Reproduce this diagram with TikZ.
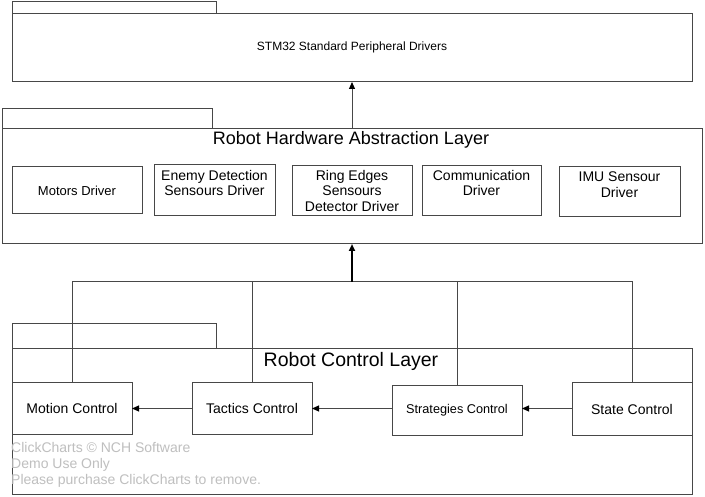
\documentclass[tikz,border=0pt]{standalone}
\usepackage{fontspec}
\setmainfont{Liberation Sans}
\usetikzlibrary{arrows.meta}
\newcommand\mybox[5]{\node[boxnode,minimum width={(#3-#1)*1pt},minimum height={(#4-#2)*1pt}] (#5) at ({(#1+#3)/2},{(#2+#4)/2}) {};}
\begin{document}
\begin{tikzpicture}[x=1pt,y=-1pt,
  ln/.style={draw=black!72, line width=1pt},
  boxnode/.style={ln, rectangle, inner sep=0pt, outer sep=0pt, fill=white},
  txt/.style={inner sep=0pt, align=center, font=\fontsize{14}{15.5}\selectfont},
  tip/.style={-{Triangle[length=7pt,width=6pt,color=black]}},
  wmark/.style={anchor=base west, inner sep=0pt, text=black!25, font=\fontsize{14}{16}\selectfont}]
\useasboundingbox[fill=white] (0,0) rectangle (705,497);
% STM32 package
\mybox{12}{2}{216}{14}{stmtab}
\mybox{12}{14}{692}{82}{stm}
\node[txt, font=\fontsize{12}{14}\selectfont] (stmt) at (352,47.5) {STM32 Standard Peripheral Drivers};
% HAL package
\mybox{2}{109}{212}{129}{haltab}
\mybox{2}{129}{702}{244}{hal}
\node[txt, font=\fontsize{18}{20}\selectfont] (halt) at (351,140) {Robot Hardware Abstraction Layer};
\mybox{12}{167}{142}{214}{motors}
\node[txt, font=\fontsize{13}{15}\selectfont] (motorst) at (motors.center) {Motors Driver};
\mybox{154}{165}{275}{216}{enemy}
\node[txt, anchor=north] (enemyt) at (214.5,170) {Enemy Detection\\Sensours Driver};
\mybox{292}{166}{412}{216}{ring}
\node[txt, anchor=north] (ringt) at (352,170) {Ring Edges\\Sensours\\Detector Driver};
\mybox{422}{166}{541}{216}{comm}
\node[txt, anchor=north] (commt) at (481.5,170) {Communication\\Driver};
\mybox{559}{167}{680}{217}{imu}
\node[txt, anchor=north] (imut) at (619.5,172) {IMU Sensour\\Driver};
% Control package
\mybox{12}{324}{216}{349}{ctltab}
\mybox{12}{349}{692}{494}{ctl}
\node[txt, font=\fontsize{19.5}{21}\selectfont] (ctlt) at (351,361) {Robot Control Layer};
\node[wmark] (wm1) at (11,452) {ClickCharts © NCH Software};
\node[wmark] (wm2) at (11,468) {Demo Use Only};
\node[wmark] (wm3) at (11,484) {Please purchase ClickCharts to remove.};
\mybox{12}{383}{132}{434}{motion}
\node[txt] (motiont) at (motion.center) {Motion Control};
\mybox{192}{383}{312}{434}{tactics}
\node[txt] (tacticst) at (tactics.center) {Tactics Control};
\mybox{392}{386}{522}{435}{strat}
\node[txt, font=\fontsize{12.7}{15}\selectfont] (stratt) at (strat.center) {Strategies Control};
\mybox{572}{383}{692}{435}{state}
\node[txt] (statet) at (state.center) {State Control};
% connectors
\draw[ln, tip] (hal.north) -- (stm.south);
\coordinate (bus) at (352,282);
\draw[ln] (motion.north) |- (bus);
\draw[ln] (tactics.north) |- (bus);
\draw[ln] (strat.north) |- (bus);
\draw[ln] (state.north) |- (bus);
\draw[line width=2pt, tip] (bus) -- (hal.south);
\draw[ln, tip] (state.west |- tactics.east) -- (strat.east |- tactics.east);
\draw[ln, tip] (strat.west |- tactics.east) -- (tactics.east);
\draw[ln, tip] (tactics.west) -- (motion.east);
\end{tikzpicture}
\end{document}
